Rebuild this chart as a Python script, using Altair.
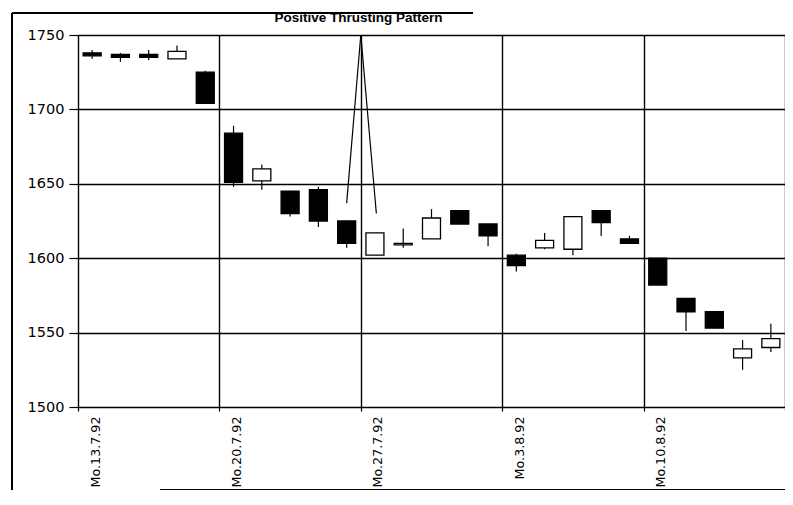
import altair as alt
import pandas as pd

# ---- data (daily candles, 13.7.92 - 14.8.92) ----
dates = ["13.7.92", "14.7.92", "15.7.92", "16.7.92", "17.7.92",
         "20.7.92", "21.7.92", "22.7.92", "23.7.92", "24.7.92",
         "27.7.92", "28.7.92", "29.7.92", "30.7.92", "31.7.92",
         "3.8.92", "4.8.92", "5.8.92", "6.8.92", "7.8.92",
         "10.8.92", "11.8.92", "12.8.92", "13.8.92", "14.8.92"]
open_ = [1738, 1737, 1737, 1734, 1725,
         1684, 1652, 1645, 1646, 1625,
         1602, 1609, 1613, 1632, 1623,
         1602, 1607, 1606, 1632, 1613,
         1600, 1573, 1564, 1533, 1540]
high = [1740, 1738, 1740, 1743, 1726,
        1689, 1663, 1645, 1648, 1625,
        1617, 1620, 1633, 1632, 1623,
        1603, 1617, 1628, 1632, 1615,
        1600, 1573, 1564, 1545, 1556]
low = [1734, 1732, 1733, 1734, 1704,
       1648, 1646, 1628, 1621, 1607,
       1602, 1607, 1613, 1623, 1608,
       1591, 1606, 1602, 1615, 1610,
       1582, 1551, 1553, 1525, 1537]
close = [1736, 1735, 1735, 1739, 1704,
         1651, 1660, 1630, 1625, 1610,
         1617, 1610, 1627, 1623, 1615,
         1595, 1612, 1628, 1624, 1610,
         1582, 1564, 1553, 1539, 1546]

week_labels = ["Mo.13.7.92", "Mo.20.7.92", "Mo.27.7.92", "Mo.3.8.92", "Mo.10.8.92"]
week_ticks = [0, 5, 10, 15, 20, 25]
y_ticks = [1500, 1550, 1600, 1650, 1700, 1750]

# annotation arrows (apex and two ends), in data units
arrow_x = [10.0, 10.0]
arrow_y = [1750, 1750]
arrow_x2 = [9.5, 10.55]
arrow_y2 = [1637, 1630]

title_text = "Positive Thrusting Pattern"

# ---- tables ----
df = pd.DataFrame({
    "date": dates,
    "pos": [i + 0.5 for i in range(len(dates))],
    "open": open_, "high": high, "low": low, "close": close,
})
df["dir"] = ["down" if c < o else "up" for o, c in zip(open_, close)]
arrows = pd.DataFrame({"x": arrow_x, "y": arrow_y, "x2": arrow_x2, "y2": arrow_y2})

label_expr = " : ".join(
    f"datum.value == {t} ? '{l}'" for t, l in zip(week_ticks, week_labels)
) + " : ''"

FONT = "DejaVu Sans"

x_scale = alt.Scale(domain=[0, 25], nice=False, zero=False, padding=0)
y_scale = alt.Scale(domain=[1500, 1750], nice=False, zero=False, padding=0)

x_axis = alt.Axis(values=week_ticks, labelExpr=label_expr, title=None, grid=True,
                  gridColor="black", gridWidth=1.4, gridOpacity=1, domain=False,
                  tickColor="black", tickSize=4, tickWidth=1.2, labelAngle=-90,
                  labelPadding=5, labelFont=FONT, labelFontSize=12.7, labelColor="black",
                  labelOffset=17)
y_axis = alt.Axis(values=y_ticks, format="d", title=None, grid=True, gridColor="black",
                  gridWidth=1.4, gridOpacity=1, domain=False, tickColor="black",
                  tickSize=9, tickWidth=1.2, labelPadding=5, labelFont=FONT,
                  labelFontSize=14.5, labelColor="black")

base = alt.Chart(df)

wicks = base.mark_rule(color="black", strokeWidth=1.2).encode(
    x=alt.X("pos:Q", scale=x_scale, axis=x_axis),
    y=alt.Y("low:Q", scale=y_scale, axis=y_axis),
    y2="high:Q",
)

bodies = base.mark_bar(size=18, stroke="black", strokeWidth=1.3).encode(
    x=alt.X("pos:Q", scale=x_scale),
    y=alt.Y("open:Q", scale=y_scale),
    y2="close:Q",
    fill=alt.Fill("dir:N", scale=alt.Scale(domain=["down", "up"], range=["black", "white"]),
                  legend=None),
)

arrow_lines = alt.Chart(arrows).mark_rule(color="black", strokeWidth=1.2).encode(
    x=alt.X("x:Q", scale=x_scale), y=alt.Y("y:Q", scale=y_scale),
    x2="x2:Q", y2="y2:Q",
)

# partial outer frame of the scanned figure
frame_left = alt.Chart(df).mark_rule(color="black", strokeWidth=1.2).encode(
    x=alt.value(-66), y=alt.value(-22), y2=alt.value(455))
frame_top = alt.Chart(df).mark_rule(color="black", strokeWidth=1.2).encode(
    x=alt.value(-66), x2=alt.value(395), y=alt.value(-22))
frame_bottom = alt.Chart(df).mark_rule(color="black", strokeWidth=1.2).encode(
    x=alt.value(82), x2=alt.value(707), y=alt.value(454.5))

chart = alt.layer(wicks, bodies, arrow_lines, frame_left, frame_top, frame_bottom).properties(
    width=707,
    height=372,
    title=alt.TitleParams(title_text, font="Liberation Sans", fontSize=13.5,
                          fontWeight="bold", color="black", anchor="middle",
                          frame="group", dx=-73, dy=14, offset=2),
    autosize=alt.AutoSizeParams(type="none"),
    padding={"left": 70, "top": 27, "right": 0, "bottom": 83},
).configure_view(stroke="black", strokeWidth=1.5).configure(background="white")

chart.save("out.html", embed_options={"renderer": "svg", "actions": False})
